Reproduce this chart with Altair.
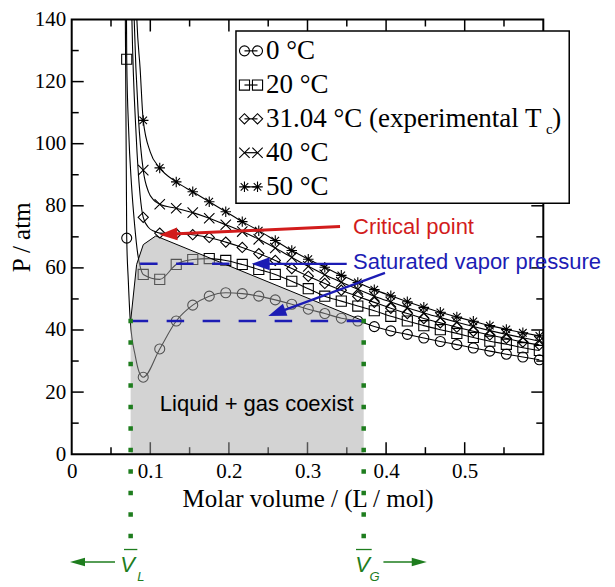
import math

import altair as alt
import pandas as pd

# plot area in px and the axis ranges
W, H = 471.6, 434.7
V_MAX, P_MAX = 0.6, 140

SERIF = "Liberation Serif"
SANS = "Liberation Sans"
RED = "#d21c1c"
BLUE = "#1c1cb4"
GREEN = "#1e7d1e"

TEMPS = ["0", "20", "31.04", "40", "50"]
SHAPES = [
    "circle",
    "square",
    "diamond",
    "M-1,-1L1,1M-1,1L1,-1",
    "M0,-1L0,1M-1,0L1,0M-0.72,-0.72L0.72,0.72M-0.72,0.72L0.72,-0.72",
]
SIZES = [100, 110, 144, 81, 121]

# molar volumes (L/mol) where the markers sit
V_GRID = [0.070, 0.091, 0.112, 0.133, 0.154, 0.175, 0.196, 0.217, 0.238, 0.259,
          0.280, 0.301, 0.322, 0.343, 0.364, 0.385, 0.406, 0.427, 0.448, 0.469,
          0.490, 0.511, 0.532, 0.553, 0.574, 0.595]

# pressure (atm) at each marker, None = above the plot
P_0C = [69.6, 24.8, 33.9, 42.9, 48.0, 50.9, 52.0, 51.7, 50.9, 49.7,
        48.3, 46.7, 45.3, 43.8, 42.9, 41.1, 39.7, 38.6, 37.4, 36.3,
        35.3, 34.2, 33.2, 32.2, 31.3, 30.4]
P_20C = [127.2, 57.9, 56.3, 61.1, 62.7, 63.0, 62.4, 61.1, 59.5, 57.9,
         55.7, 53.3, 50.9, 49.3, 47.7, 46.2, 44.4, 42.9, 41.4, 40.1,
         38.9, 37.6, 36.4, 35.4, 34.3, 33.4]
P_31C = [None, 76.3, 71.2, 71.0, 70.7, 69.8, 68.3, 66.6, 64.6, 62.4,
         59.8, 57.3, 55.0, 52.8, 50.8, 48.9, 47.0, 45.3, 43.7, 42.3,
         40.9, 39.6, 38.4, 37.3, 36.1, 35.2]
P_40C = [None, 91.5, 80.5, 79.2, 77.8, 76.0, 73.9, 71.7, 69.2, 66.4,
         63.4, 60.5, 57.8, 55.4, 53.1, 50.9, 49.0, 47.2, 45.5, 44.0,
         42.5, 41.1, 39.8, 38.6, 37.5, 36.4]
P_50C = [None, 107.5, 92.2, 87.7, 84.5, 81.3, 78.1, 74.9, 72.0, 68.8,
         65.6, 62.8, 60.2, 57.6, 55.3, 53.0, 51.0, 49.1, 47.3, 45.7,
         44.2, 42.8, 41.4, 40.2, 39.1, 38.1]

# extra line points (no marker) on the steep liquid branch
LIQ_V_0C = [0.0680, 0.0720, 0.0745, 0.0810, 0.0860]
LIQ_P_0C = [150, 56, 43, 31.5, 26.3]
LIQ_V_20C = [0.0695, 0.0725, 0.0760, 0.0800, 0.0840, 0.0875]
LIQ_P_20C = [150, 104, 87, 74, 64.5, 60]
LIQ_V_31C = [0.0755, 0.0766, 0.0820, 0.0870, 0.0977, 0.1050]
LIQ_P_31C = [155, 140, 102.7, 83.5, 73.0, 71.8]
LIQ_V_40C = [0.0780, 0.0795, 0.0850, 0.0977, 0.1040]
LIQ_P_40C = [155, 140, 108, 84.5, 81.9]
LIQ_V_50C = [0.0810, 0.0829, 0.0871, 0.1000]
LIQ_P_50C = [155, 140, 124, 97.3]

# coexistence dome
DOME_V = [0.075, 0.0826, 0.0911, 0.107, 0.3715]
DOME_P = [42.9, 61.1, 67.5, 70.3, 42.9]
V_L, V_G = 0.075, 0.3715
P_SAT_0C, P_SAT_20C = 42.9, 61.3

X_LABELS = [0, 0.1, 0.2, 0.3, 0.4, 0.5]
X_MAJOR = [0.1, 0.2, 0.3, 0.4, 0.5]
X_MINOR = [0.05, 0.15, 0.25, 0.35, 0.45, 0.55]
Y_LABELS = [0, 20, 40, 60, 80, 100, 120, 140]
Y_MAJOR = [20, 40, 60, 80, 100, 120]
Y_MINOR = [10, 30, 50, 70, 90, 110, 130]

LEG_TEXTS = ["0 °C", "20 °C", "31.04 °C (experimental T", "40 °C", "50 °C"]
LEG_ROW_P = [129.9, 118.9, 108.0, 97.1, 86.1]

XS = alt.Scale(domain=[0, V_MAX], nice=False, zero=False)
YS = alt.Scale(domain=[0, P_MAX], nice=False)
X_AXIS = alt.Axis(
    values=X_LABELS, format="~g", title="Molar volume / (L / mol)",
    ticks=False, domain=False, grid=False, labelFlush=False, labelOverlap=False,
    labelFont=SERIF, labelFontSize=21, labelColor="black", labelPadding=6,
    titleFont=SERIF, titleFontSize=25, titleFontWeight="normal",
    titleColor="black", titlePadding=5,
)
Y_AXIS = alt.Axis(
    values=Y_LABELS, title="P / atm",
    ticks=False, domain=False, grid=False, labelFlush=False, labelOverlap=False,
    labelFont=SERIF, labelFontSize=21, labelColor="black", labelPadding=6,
    titleFont=SERIF, titleFontSize=25, titleFontWeight="normal",
    titleColor="black", titlePadding=0,
)
SHAPE_SCALE = alt.Scale(domain=TEMPS, range=SHAPES)
SIZE_SCALE = alt.Scale(domain=TEMPS, range=SIZES)


def xy(**extra):
    return dict(
        x=alt.X("V:Q", scale=XS, axis=X_AXIS),
        y=alt.Y("P:Q", scale=YS, axis=Y_AXIS),
        **extra,
    )


def segs(rows):
    return pd.DataFrame(rows, columns=["V", "P", "V2", "P2"])


def rules(rows, **mark):
    return alt.Chart(segs(rows)).mark_rule(**mark).encode(**xy(x2="V2:Q", y2="P2:Q"))


def texts(rows, **mark):
    df = pd.DataFrame(rows, columns=["V", "P", "label"])
    return alt.Chart(df).mark_text(**mark).encode(**xy(text="label:N"))


def arrow(start, tip, color, width, head_len, head_w):
    (v1, p1), (v2, p2) = start, tip
    dx = (v2 - v1) * W / V_MAX
    dy = -(p2 - p1) * H / P_MAX
    length = math.hypot(dx, dy)
    angle = math.degrees(math.atan2(-dy, -dx)) % 360
    back = head_len * 0.7 / length
    vb = v2 - dx * back * V_MAX / W
    pb = p2 + dy * back * P_MAX / H
    shaft = rules([(v1, p1, vb, pb)], color=color, strokeWidth=width)
    r = head_w / 2 / head_len
    head = alt.Chart(pd.DataFrame({"V": [v2], "P": [p2]})).mark_point(
        shape=f"M0,0L1,{-r:.3f}L1,{r:.3f}Z", size=(2 * head_len) ** 2,
        angle=angle, filled=True, color=color, opacity=1, strokeWidth=0,
    ).encode(**xy())
    return shaft + head


# curves and markers
series = [
    ("0", P_0C, LIQ_V_0C, LIQ_P_0C),
    ("20", P_20C, LIQ_V_20C, LIQ_P_20C),
    ("31.04", P_31C, LIQ_V_31C, LIQ_P_31C),
    ("40", P_40C, LIQ_V_40C, LIQ_P_40C),
    ("50", P_50C, LIQ_V_50C, LIQ_P_50C),
]
line_rows, mark_rows = [], []
for t, p_grid, lv, lp in series:
    pts = [(v, p) for v, p in zip(V_GRID, p_grid) if p is not None]
    mark_rows += [(t, v, p) for v, p in pts]
    line_rows += [(t, v, p) for v, p in sorted(pts + list(zip(lv, lp)))]
lines_df = pd.DataFrame(line_rows, columns=["T", "V", "P"])
marks_df = pd.DataFrame(mark_rows, columns=["T", "V", "P"])

curves = alt.Chart(lines_df).mark_line(
    color="black", strokeWidth=1.1, interpolate="monotone", clip=True
).encode(**xy(detail="T:N"))


def markers(df, clip):
    return alt.Chart(df).mark_point(
        filled=False, color="black", strokeWidth=1.1, opacity=1, clip=clip
    ).encode(**xy(
        shape=alt.Shape("T:N", scale=SHAPE_SCALE, legend=None),
        size=alt.Size("T:N", scale=SIZE_SCALE, legend=None),
    ))


# inward ticks on all four sides
maj_p, min_p = 12 * P_MAX / H, 7 * P_MAX / H
maj_v, min_v = 12 * V_MAX / W, 7 * V_MAX / W
tick_rows = []
for vals, lp in ((X_MAJOR, maj_p), (X_MINOR, min_p)):
    for v in vals:
        tick_rows += [(v, 0, v, lp), (v, P_MAX, v, P_MAX - lp)]
for vals, lv in ((Y_MAJOR, maj_v), (Y_MINOR, min_v)):
    for p in vals:
        tick_rows += [(0, p, lv, p), (V_MAX, p, V_MAX - lv, p)]
ticks = rules(tick_rows, color="black", strokeWidth=1.5)

dome_df = pd.DataFrame({"V": DOME_V, "P": DOME_P})
overlay = alt.Chart(dome_df).mark_area(color="#a8a8a8", opacity=0.5).encode(**xy())
dome_edge = alt.Chart(dome_df).mark_line(color="black", strokeWidth=1).encode(**xy())

sat_lines = rules(
    [(0.087, P_SAT_20C, 0.2017, P_SAT_20C), (V_L, P_SAT_0C, V_G, P_SAT_0C)],
    color=BLUE, strokeWidth=2.5, strokeDash=[17.5, 18.5],
)
green_lines = rules(
    [(V_L, 43.6, V_L, -27.5), (V_G, 43.6, V_G, -27.5)],
    color=GREEN, strokeWidth=4.5, strokeDash=[4.5, 17], strokeCap="butt",
)

crit = arrow((0.3414, 73.3), (0.1115, 70.7), RED, 3, 18, 13)
sat1 = arrow((0.3499, 61.3), (0.2290, 61.3), BLUE, 2.2, 18, 13)
sat2 = arrow((0.3986, 58.4), (0.2501, 44.5), BLUE, 2.2, 18, 13)
left_g = arrow((0.0551, -34.7), (-0.0022, -34.7), GREEN, 1.5, 15, 8.5)
right_g = arrow((0.3966, -34.7), (0.4517, -34.7), GREEN, 1.5, 15, 8.5)

red_text = texts([(0.3579, 70.8, "Critical point")], font=SANS, fontSize=22,
                 color=RED, align="left", baseline="alphabetic")
blue_text = texts([(0.3579, 59.6, "Saturated vapor pressure")], font=SANS,
                  fontSize=22, color=BLUE, align="left", baseline="alphabetic")
region_text = texts([(0.2354, 13.8, "Liquid + gas coexist")], font=SANS,
                    fontSize=22, color="black", align="center", baseline="alphabetic")

v_big = texts([(0.0710, -38.1, "V"), (0.3700, -38.1, "V")], font=SANS, fontSize=22,
              fontStyle="italic", color=GREEN, align="center", baseline="alphabetic")
v_sub = texts([(0.0835, -40.9, "L"), (0.3790, -40.9, "G")], font=SANS, fontSize=13,
              fontStyle="italic", color=GREEN, align="left", baseline="alphabetic")
v_bar = rules([(0.0665, -30.7, 0.0835, -30.7), (0.3617, -30.7, 0.3817, -30.7)],
              color=GREEN, strokeWidth=1.3)

# legend
LEG_SYM_V = [0.2198, 0.2364]
leg_box = alt.Chart(segs([(0.209, 136.3, 0.633, 80.8)])).mark_rect(
    fill="white", stroke="black", strokeWidth=1.5
).encode(**xy(x2="V2:Q", y2="P2:Q"))
leg_lines = rules([(LEG_SYM_V[0], p, LEG_SYM_V[1], p) for p in LEG_ROW_P],
                  color="black", strokeWidth=1.2)
leg_marks_df = pd.DataFrame(
    [(t, v, p) for t, p in zip(TEMPS, LEG_ROW_P) for v in LEG_SYM_V],
    columns=["T", "V", "P"],
)
leg_text = texts([(0.2472, p - 2.72, s) for s, p in zip(LEG_TEXTS, LEG_ROW_P)],
                 font=SERIF, fontSize=27, color="black", align="left", baseline="alphabetic")
leg_sub = texts([(0.6035, 103.2, "c")], font=SERIF, fontSize=15, color="black",
                align="left", baseline="alphabetic")
leg_close = texts([(0.6115, 105.3, ")")], font=SERIF, fontSize=27, color="black",
                  align="left", baseline="alphabetic")

frame = alt.Chart(segs([(0, 0, V_MAX, P_MAX)])).mark_rect(
    fill="white", fillOpacity=0, stroke="black", strokeWidth=2
).encode(**xy(x2="V2:Q", y2="P2:Q"))

chart = alt.layer(
    ticks, curves, markers(marks_df, True), overlay, dome_edge,
    sat_lines, green_lines, frame, crit, sat1, sat2,
    red_text, blue_text, region_text,
    leg_box, leg_lines, markers(leg_marks_df, False), leg_text, leg_sub, leg_close,
    left_g, right_g, v_big, v_sub, v_bar,
).properties(
    width=W,
    height=H,
    autosize=alt.AutoSizeParams(type="none"),
    padding={"left": 63.7, "top": 11.5, "right": 62, "bottom": 130},
    background="white",
).configure_view(stroke=None)

chart.save("out.html", embed_options={"renderer": "svg", "actions": False})
